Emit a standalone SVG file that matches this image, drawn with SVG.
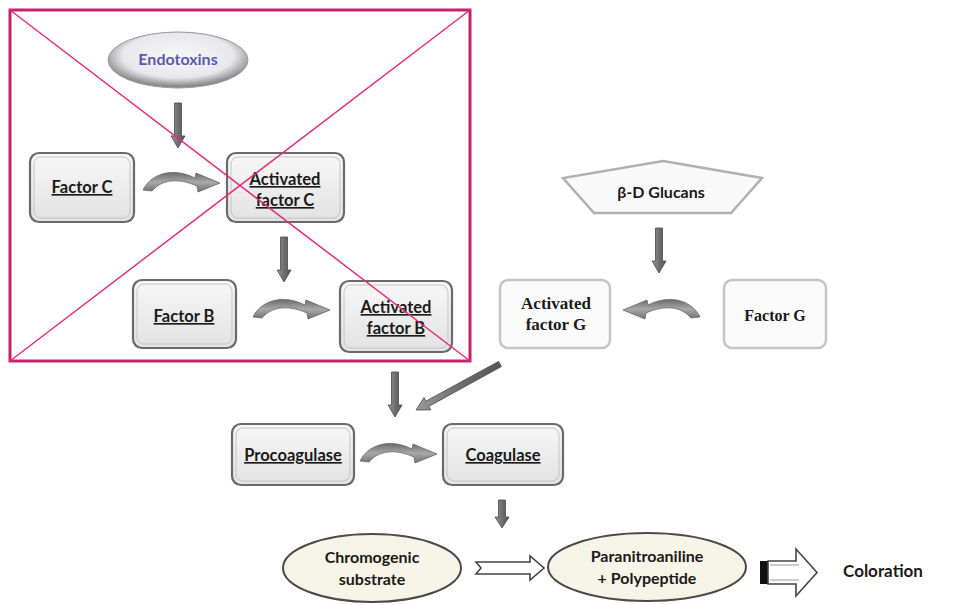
<svg xmlns="http://www.w3.org/2000/svg" width="957" height="605" viewBox="0 0 957 605">
<style>
.t{font-family:Lato,"Liberation Sans",sans-serif;font-weight:bold;font-size:16.5px;fill:#1a1a1a;text-anchor:middle}
.u{text-decoration:underline}
.s{font-family:"Liberation Serif",serif;font-weight:bold;font-size:16.5px;fill:#1a1a1a;text-anchor:middle}
.box{fill:url(#boxg);stroke:#6a6a6a;stroke-width:2.2}
.inner{fill:none;stroke:#c4c4c4;stroke-width:1}
.box2{fill:#fafafa;stroke:#c4c4c4;stroke-width:2.5}
.arr{fill:url(#arrg);stroke:#4a4a4a;stroke-width:0.8}
.crv{fill:url(#crvg);stroke:#5a5a5a;stroke-width:0.7}
.hollow{fill:#fff;stroke:#444;stroke-width:1.6}
.ell{fill:#f6f4e6;stroke:#4a4a4a;stroke-width:2}
</style>
<defs>
<linearGradient id="boxg" x1="0" y1="0" x2="0" y2="1"><stop offset="0" stop-color="#f7f7f7"/><stop offset="1" stop-color="#e2e2e2"/></linearGradient>
<linearGradient id="arrg" x1="0" y1="0" x2="1" y2="0"><stop offset="0" stop-color="#9a9a9a"/><stop offset="0.5" stop-color="#6e6e6e"/><stop offset="1" stop-color="#555"/></linearGradient>
<linearGradient id="crvg" x1="0" y1="0" x2="0" y2="1"><stop offset="0" stop-color="#6a6a6a"/><stop offset="0.5" stop-color="#a8a8a8"/><stop offset="1" stop-color="#707070"/></linearGradient>
<radialGradient id="endg" cx="0.5" cy="0.42" r="0.55"><stop offset="0" stop-color="#f7f7f9"/><stop offset="0.72" stop-color="#e8e8ec"/><stop offset="1" stop-color="#8a8a8a"/></radialGradient>
<path id="down45" d="M-3.5,0 H3.5 V33 H7 L0,45 L-7,33 H-3.5 Z"/>
<path id="down28" d="M-3.5,0 H3.5 V17 H7 L0,28 L-7,17 H-3.5 Z"/>
<path id="curve" d="M0,20 C7,5 28,-4 52,8 L53,3 L77,13 L55,22 L54,16 C36,8 19,9 9,21 Z"/>
</defs>

<g id="frame">
<rect x="10" y="10" width="460" height="351" fill="none" stroke="#c4246c" stroke-width="3"/>
</g>

<g id="connectors">
<use href="#down45" class="arr" x="178" y="103"/>
<use href="#down45" class="arr" x="284" y="237"/>
<use href="#down45" class="arr" x="659" y="228"/>
<use href="#down45" class="arr" x="395" y="372"/>
<use href="#down28" class="arr" x="502" y="500"/>
<use href="#curve" class="crv" transform="translate(143,170)"/>
<use href="#curve" class="crv" transform="translate(253,297)"/>
<use href="#curve" class="crv" transform="translate(700,297) scale(-1,1)"/>
<use href="#curve" class="crv" transform="translate(360,441)"/>
<path class="arr" d="M501.4,366.6 L428.8,406.4 L430.8,409.9 L416,410 L424,397.6 L426,401.1 L498.6,361.4 Z"/>
<path class="hollow" d="M476,562 H530 V556 L544,568 L530,580 V574 H476 L481,568 Z"/>
<rect x="760" y="561" width="8" height="23" fill="#111"/>
<path class="hollow" d="M768,561 H796 V549 L817,572.5 L796,596 V584 H768 Z"/>
<path d="M770,565 H799 M770,580 H799" stroke="#999" stroke-width="1"/>
</g>

<g id="endotoxins">
<ellipse cx="178" cy="60" rx="70" ry="28" fill="url(#endg)" stroke="#9a9a9a" stroke-width="1"/>
<text class="t" x="178" y="65" style="fill:#5a5aa8;font-size:16px">Endotoxins</text>
</g>

<g id="factor-c">
<rect class="box" x="30" y="153" width="104" height="69" rx="9"/>
<rect class="inner" x="34" y="157" width="96" height="61" rx="7"/>
<text class="t u" x="82" y="193">Factor C</text>
</g>

<g id="activated-factor-c">
<rect class="box" x="227" y="153" width="117" height="69" rx="9"/>
<rect class="inner" x="231" y="157" width="109" height="61" rx="7"/>
<text class="t u" x="285" y="185">Activated</text>
<text class="t u" x="285" y="206">factor C</text>
</g>

<g id="factor-b">
<rect class="box" x="133" y="280" width="103" height="68" rx="9"/>
<rect class="inner" x="137" y="284" width="95" height="60" rx="7"/>
<text class="t u" x="184" y="322">Factor B</text>
</g>

<g id="activated-factor-b">
<rect class="box" x="340" y="281" width="112" height="71" rx="9"/>
<rect class="inner" x="344" y="285" width="104" height="63" rx="7"/>
<text class="t u" x="396" y="313">Activated</text>
<text class="t u" x="396" y="334">factor B</text>
</g>

<g id="glucans">
<polygon points="663,161 762,178 731,213 594,213 563,178" fill="#f9f9f9" stroke="#b0b0b0" stroke-width="2.5"/>
<text class="t" x="661" y="198" style="font-size:16px">β-D Glucans</text>
</g>

<g id="activated-factor-g">
<rect class="box2" x="500" y="280" width="110" height="68" rx="8"/>
<text class="s" x="556" y="309" style="font-size:17px">Activated</text>
<text class="s" x="556" y="330" style="font-size:17px">factor G</text>
</g>

<g id="factor-g">
<rect class="box2" x="724" y="280" width="102" height="68" rx="8"/>
<text class="s" x="775" y="321" style="font-size:16px">Factor G</text>
</g>

<g id="procoagulase">
<rect class="box" x="232" y="424" width="122" height="61" rx="9"/>
<rect class="inner" x="236" y="428" width="114" height="53" rx="7"/>
<text class="t u" x="293" y="461">Procoagulase</text>
</g>

<g id="coagulase">
<rect class="box" x="443" y="424" width="120" height="61" rx="9"/>
<rect class="inner" x="447" y="428" width="112" height="53" rx="7"/>
<text class="t u" x="503" y="461">Coagulase</text>
</g>

<g id="chromogenic">
<ellipse class="ell" cx="372" cy="568" rx="89" ry="34"/>
<text class="t" x="372" y="563" style="font-size:16px">Chromogenic</text>
<text class="t" x="372" y="585" style="font-size:16px">substrate</text>
</g>

<g id="paranitroaniline">
<ellipse class="ell" cx="647" cy="567" rx="99" ry="34"/>
<text class="t" x="647" y="562" style="font-size:16px">Paranitroaniline</text>
<text class="t" x="647" y="584" style="font-size:16px">+ Polypeptide</text>
</g>

<g id="coloration">
<text class="t" x="883" y="577" style="font-size:17px">Coloration</text>
</g>

<g id="cross">
<line x1="10" y1="10" x2="470" y2="361" stroke="#e0307c" stroke-width="1.5"/>
<line x1="470" y1="10" x2="10" y2="361" stroke="#e0307c" stroke-width="1.5"/>
</g>
</svg>
